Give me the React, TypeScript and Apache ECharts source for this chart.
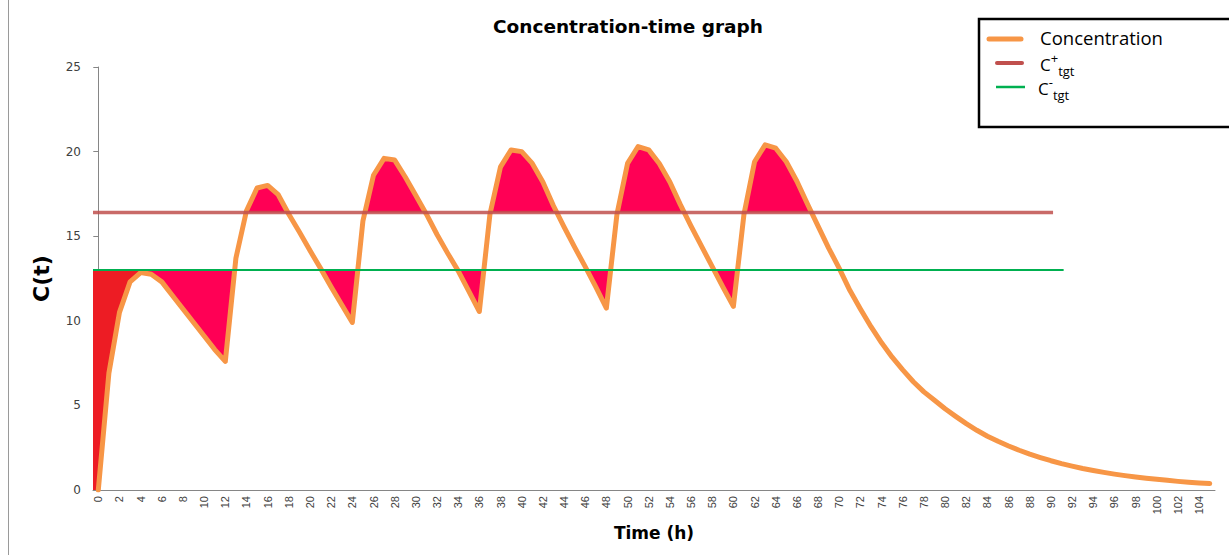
import { useEffect, useRef } from "react";
import * as echarts from "echarts";

// Hourly time points (h) and plasma concentration C(t)
const hours: string[] = Array.from({ length: 106 }, (_, i) => String(i));

const concentration: number[] = [
  0, 6.9, 10.5, 12.3, 12.85, 12.75, 12.3, 11.5, 10.7, 9.9, 9.1, 8.3,
  7.6, 13.7, 16.5, 17.85, 18.0, 17.45, 16.3, 15.25, 14.15, 13.1, 12.0, 10.95,
  9.9, 15.9, 18.6, 19.6, 19.5, 18.5, 17.4, 16.3, 15.1, 14.0, 12.95, 11.75,
  10.55, 16.3, 19.1, 20.1, 20.0, 19.3, 18.2, 16.8, 15.55, 14.35, 13.2, 12.0,
  10.75, 16.3, 19.3, 20.3, 20.1, 19.3, 18.2, 16.85, 15.6, 14.4, 13.2, 12.0,
  10.85, 16.3, 19.4, 20.4, 20.2, 19.4, 18.25, 16.9, 15.6, 14.3, 13.1, 11.8,
  10.7, 9.65, 8.7, 7.85, 7.1, 6.4, 5.8, 5.3, 4.8, 4.35, 3.92, 3.53,
  3.18, 2.88, 2.6, 2.35, 2.12, 1.92, 1.73, 1.56, 1.41, 1.27, 1.15, 1.04,
  0.94, 0.85, 0.77, 0.7, 0.63, 0.57, 0.51, 0.46, 0.42, 0.38,
];

// Target window
const cPlusTarget = 16.4;
const cMinusTarget = 13;
// Time extent of each target line (h)
const cPlusSpan = [-0.5, 90.2];
const cMinusSpan = [-0.5, 91.2];
// Dosing interval and last dose (h)
const dosingInterval = 12;
const lastDoseHour = 60;

const ORANGE = "#F79646";
const BRICK = "#C0504D";
const GREEN = "#00B050";
const PINK = "#FF0055";
const RED = "#ED1C24";

type Pt = number[];

// Regions where the curve lies beyond a threshold (pixel space),
// closed along the threshold line.
function bands(pts: Pt[], ty: number, above: boolean, from: number, to: number): Pt[][] {
  const inside = (p: Pt) => (above ? p[1] <= ty : p[1] >= ty);
  const out: Pt[][] = [];
  let cur: Pt[] | null = null;
  for (let i = from; i <= to; i++) {
    const p = pts[i];
    if (i > from) {
      const q = pts[i - 1];
      if (inside(p) !== inside(q)) {
        const t = (ty - q[1]) / (p[1] - q[1]);
        const c = [q[0] + t * (p[0] - q[0]), ty];
        if (cur) {
          cur.push(c);
          out.push(cur);
          cur = null;
        } else {
          cur = [c];
        }
      }
    }
    if (inside(p)) {
      if (!cur) cur = [[p[0], ty]];
      cur.push(p);
    }
  }
  if (cur) {
    cur.push([cur[cur.length - 1][0], ty]);
    out.push(cur);
  }
  return out;
}

export default function App() {
  const ref = useRef<HTMLDivElement>(null);

  useEffect(() => {
    if (!ref.current) return;
    const chart = echarts.init(ref.current, null, { renderer: "svg" });

    const fillRender = (params: any, api: any) => {
      const cs = params.coordSys;
      const pts: Pt[] = concentration.map((v, i) => api.coord([i, v]));
      const yMinus = api.coord([0, cMinusTarget])[1];
      const yPlus = api.coord([0, cPlusTarget])[1];
      const yZero = api.coord([0, 0])[1];

      // first-dose peak ends the loading phase
      let peak = 0;
      for (let i = 0; i < dosingInterval; i++) if (concentration[i] > concentration[peak]) peak = i;

      const children: any[] = [];
      const loading: Pt[] = [[cs.x, yZero], [cs.x, yMinus], [pts[peak][0], yMinus]];
      for (let i = peak; i >= 0; i--) loading.push(pts[i]);
      children.push({ type: "polygon", shape: { points: loading }, style: { fill: RED } });

      for (const poly of bands(pts, yMinus, false, peak, lastDoseHour + 1)) {
        children.push({ type: "polygon", shape: { points: poly }, style: { fill: PINK } });
      }
      for (const poly of bands(pts, yPlus, true, 0, pts.length - 1)) {
        children.push({ type: "polygon", shape: { points: poly }, style: { fill: PINK } });
      }
      return { type: "group", children };
    };

    const legendFont = "'Open Sans', 'Liberation Sans', sans-serif";
    const targetRich = {
      c: { fontSize: 17, fontFamily: legendFont, color: "#000", lineHeight: 26, verticalAlign: "middle" },
      sup: { fontSize: 13, fontFamily: legendFont, color: "#000", lineHeight: 13, verticalAlign: "top" },
      sub: { fontSize: 13, fontFamily: legendFont, color: "#000", lineHeight: 13, verticalAlign: "bottom" },
    };

    chart.setOption({
      animation: false,
      backgroundColor: "#ffffff",
      title: {
        text: "Concentration-time graph",
        left: 628,
        top: 17,
        padding: 0,
        textAlign: "center",
        textStyle: {
          fontFamily: "'DejaVu Sans', sans-serif",
          fontWeight: "bold",
          fontSize: 18.5,
          color: "#000000",
        },
      },
      grid: { left: 93, top: 67, right: 14, bottom: 65, containLabel: false },
      xAxis: [
        {
          type: "category",
          data: hours,
          boundaryGap: true,
          axisLine: { lineStyle: { color: "#868686", width: 1 } },
          axisTick: { show: false },
          axisLabel: {
            interval: 1,
            rotate: 90,
            margin: 6,
            fontSize: 11,
            fontFamily: "'Liberation Sans', Arial, sans-serif",
            color: "#404040",
          },
          splitLine: { show: false },
          name: "Time (h)",
          nameLocation: "middle",
          nameGap: 34,
          nameTextStyle: {
            fontFamily: "'DejaVu Sans', sans-serif",
            fontWeight: "bold",
            fontSize: 17,
            color: "#000000",
          },
        },
        {
          type: "value",
          show: false,
          min: -0.5,
          max: 105.5,
        },
      ],
      yAxis: {
        type: "value",
        min: 0,
        max: 25,
        interval: 5,
        axisLine: { show: true, lineStyle: { color: "#868686", width: 1 } },
        axisTick: { show: true, length: 5, lineStyle: { color: "#868686" } },
        splitLine: { show: false },
        axisLabel: {
          margin: 12,
          fontSize: 12,
          fontFamily: "'DejaVu Sans', Verdana, sans-serif",
          color: "#404040",
        },
        name: "C(t)",
        nameLocation: "middle",
        nameGap: 41,
        nameTextStyle: {
          fontFamily: "'DejaVu Sans', sans-serif",
          fontWeight: "bold",
          fontSize: 22,
          color: "#000000",
        },
      },
      series: [
        {
          name: "fill",
          type: "custom",
          xAxisIndex: 0,
          yAxisIndex: 0,
          data: [[0, 0]],
          renderItem: fillRender,
          silent: true,
          z: 1,
        },
        {
          name: "Concentration",
          type: "line",
          xAxisIndex: 0,
          data: concentration,
          showSymbol: false,
          smooth: false,
          lineStyle: { color: ORANGE, width: 5, cap: "round", join: "round" },
          itemStyle: { color: ORANGE },
          z: 3,
        },
        {
          name: "C+tgt",
          type: "line",
          xAxisIndex: 1,
          data: [
            [cPlusSpan[0], cPlusTarget],
            [cPlusSpan[1], cPlusTarget],
          ],
          showSymbol: false,
          lineStyle: { color: BRICK, width: 3.5, opacity: 0.85 },
          z: 4,
        },
        {
          name: "C-tgt",
          type: "line",
          xAxisIndex: 1,
          data: [
            [cMinusSpan[0], cMinusTarget],
            [cMinusSpan[1], cMinusTarget],
          ],
          showSymbol: false,
          lineStyle: { color: GREEN, width: 2 },
          z: 4,
        },
      ],
      graphic: [
        {
          type: "line",
          shape: { x1: 8.5, y1: 0, x2: 8.5, y2: 555 },
          style: { stroke: "#9a9a9a", lineWidth: 1 },
          silent: true,
        },
        {
          type: "group",
          silent: true,
          children: [
            {
              type: "rect",
              shape: { x: 979, y: 19, width: 300, height: 108 },
              style: { fill: "#ffffff", stroke: "#000000", lineWidth: 2.5 },
            },
            {
              type: "line",
              shape: { x1: 989, y1: 39, x2: 1021, y2: 39 },
              style: { stroke: ORANGE, lineWidth: 5, lineCap: "round" },
            },
            {
              type: "line",
              shape: { x1: 997, y1: 63, x2: 1022, y2: 63 },
              style: { stroke: BRICK, lineWidth: 4, lineCap: "round" },
            },
            {
              type: "line",
              shape: { x1: 996, y1: 87, x2: 1025, y2: 87 },
              style: { stroke: GREEN, lineWidth: 2.5 },
            },
            {
              type: "text",
              x: 1040,
              y: 37,
              style: {
                text: "Concentration",
                font: `18.5px ${legendFont}`,
                fill: "#000000",
                verticalAlign: "middle",
              },
            },
            {
              type: "text",
              x: 1040,
              y: 64,
              style: {
                text: "{c|C}{sup|+}{sub|tgt}",
                rich: targetRich,
                verticalAlign: "middle",
              },
            },
            {
              type: "text",
              x: 1038,
              y: 88,
              style: {
                text: "{c|C}{sup|-}{sub|tgt}",
                rich: targetRich,
                verticalAlign: "middle",
              },
            },
          ],
        },
      ],
    });

    return () => chart.dispose();
  }, []);

  return (
    <div
      ref={ref}
      style={{ position: "fixed", left: 0, top: 0, width: 1229, height: 555, background: "#fff" }}
    />
  );
}
